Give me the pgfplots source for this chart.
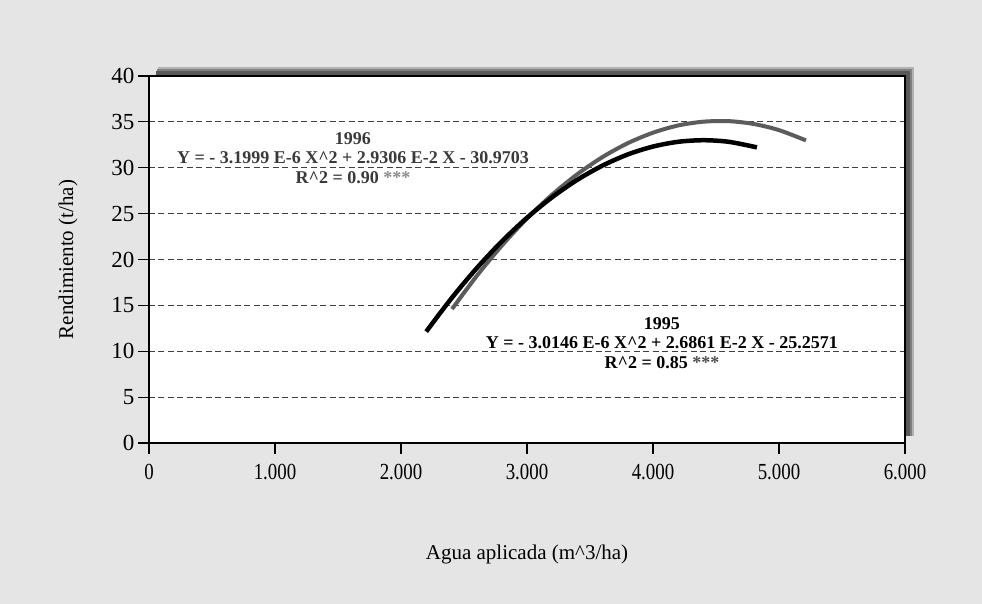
\documentclass[border=0pt]{standalone}
\usepackage{pgfplots}
\pgfplotsset{compat=1.18}
\usepackage{fontspec}
\setmainfont{Liberation Serif}
\newfontfamily\tickx[FakeStretch=0.82]{Liberation Serif}
\definecolor{bg}{HTML}{E5E5E5}
\definecolor{g96}{HTML}{5C5C5C}
\definecolor{t96}{HTML}{3A3A3A}
\definecolor{star}{HTML}{8A8A8A}
\begin{document}
\begin{tikzpicture}
\fill[bg] (-149pt,-161pt) rectangle (833pt,443pt);
\fill[black!30] (9pt,7pt) rectangle (765pt,376pt);
\fill[black!50] (8pt,7pt) rectangle (763pt,374pt);
\fill[black!65] (7pt,7pt) rectangle (761pt,372pt);
\begin{axis}[
  at={(0,0)}, anchor=south west,
  scale only axis, width=756pt, height=367pt,
  xmin=0, xmax=6000, ymin=0, ymax=40,
  axis background/.style={fill=white},
  axis line style={line width=1.4pt},
  xtick={0,1000,2000,3000,4000,5000,6000},
  xticklabels={0,1.000,2.000,3.000,4.000,5.000,6.000},
  ytick={0,5,...,40},
  tick align=outside, major tick length=11pt,
  tick style={line width=1.2pt, black},
  xtick pos=bottom, ytick pos=left,
  ymajorgrids, grid style={dash pattern=on 6pt off 3.5pt, line width=0.8pt, black!75},
  xticklabel style={font=\tickx\fontsize{23}{23}\selectfont, anchor=center, yshift=-18pt},
  yticklabel style={font=\fontsize{23}{23}\selectfont},
  /pgf/number format/assume math mode=true,
  xlabel={Agua aplicada (m\textasciicircum 3/ha)},
  ylabel={Rendimiento (t/ha)},
  xlabel style={font=\fontsize{21}{21}\selectfont, at={(axis description cs:0.5,-0.305)}, anchor=center},
  ylabel style={font=\fontsize{21}{21}\selectfont, at={(axis description cs:-0.107,0.5)}, anchor=center},
]
\addplot[g96, line width=4pt, smooth] coordinates {
 (2405,14.60) (2600,18.19) (2800,21.51) (3000,24.47) (3200,27.07) (3400,29.30)
 (3600,31.17) (3800,32.68) (4000,33.82) (4200,34.61) (4400,35.02) (4600,35.08)
 (4800,34.77) (5000,34.10) (5214,32.98)};
\addplot[black, line width=4.5pt, smooth] coordinates {
 (2200,12.14) (2400,15.76) (2600,19.04) (2800,21.97) (3000,24.55) (3200,26.79)
 (3400,28.69) (3600,30.24) (3800,31.45) (4000,32.31) (4200,32.83) (4400,33.00)
 (4600,32.83) (4825,32.22)};
\node[align=center, font=\bfseries\fontsize{18}{19.5}\selectfont, text=t96, inner sep=0pt]
  at (axis cs:1619,31.06) {1996\\Y = - 3.1999 E-6 X\textasciicircum 2 + 2.9306 E-2 X - 30.9703\\R\textasciicircum 2 = 0.90 \textcolor{star}{***}};
\node[align=center, font=\bfseries\fontsize{18}{19.5}\selectfont, text=black, inner sep=0pt]
  at (axis cs:4071,10.9) {1995\\Y = - 3.0146 E-6 X\textasciicircum 2 + 2.6861 E-2 X - 25.2571\\R\textasciicircum 2 = 0.85 \textcolor{black!70}{***}};
\end{axis}
\end{tikzpicture}
\end{document}
